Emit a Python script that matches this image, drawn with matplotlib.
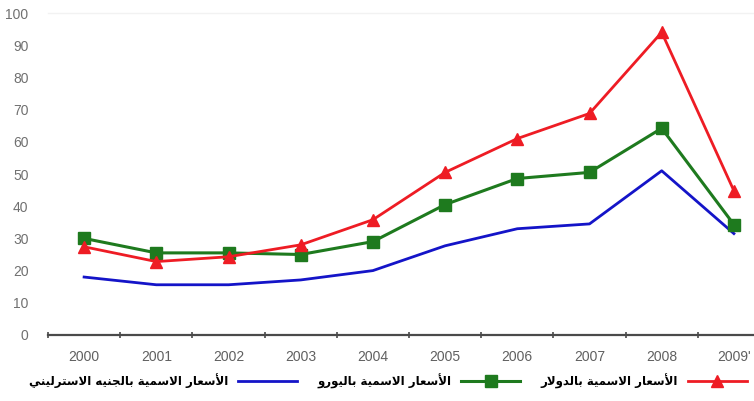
import matplotlib
matplotlib.use("Agg")
import matplotlib.pyplot as plt
import numpy as np

years = ["2000", "2001", "2002", "2003", "2004", "2005", "2006", "2007", "2008", "2009'"]
dollar = [27.4, 22.8, 24.3, 28.0, 35.8, 50.5, 61.0, 68.8, 94.0, 44.8]
euro = [30.0, 25.5, 25.5, 25.0, 29.0, 40.5, 48.6, 50.5, 64.2, 34.3]
pound = [18.0, 15.6, 15.6, 17.1, 20.0, 27.7, 33.0, 34.5, 51.0, 31.5]
yticks = [0, 10, 20, 30, 40, 50, 60, 70, 80, 90, 100]

lbl_dollar = "الأسعار الاسمية بالدولار"
lbl_euro = "الأسعار الاسمية باليورو"
lbl_pound = "الأسعار الاسمية بالجنيه الاسترليني"

# --- minimal Arabic shaping (presentation forms) + visual reordering ---
FORMS = {  # isolated, final, initial, medial
    'ا': ('\uFE8D', '\uFE8E', None, None),
    'أ': ('\uFE83', '\uFE84', None, None),
    'ب': ('\uFE8F', '\uFE90', '\uFE91', '\uFE92'),
    'ة': ('\uFE93', '\uFE94', None, None),
    'ت': ('\uFE95', '\uFE96', '\uFE97', '\uFE98'),
    'ج': ('\uFE9D', '\uFE9E', '\uFE9F', '\uFEA0'),
    'د': ('\uFEA9', '\uFEAA', None, None),
    'ر': ('\uFEAD', '\uFEAE', None, None),
    'س': ('\uFEB1', '\uFEB2', '\uFEB3', '\uFEB4'),
    'ع': ('\uFEC9', '\uFECA', '\uFECB', '\uFECC'),
    'ل': ('\uFEDD', '\uFEDE', '\uFEDF', '\uFEE0'),
    'م': ('\uFEE1', '\uFEE2', '\uFEE3', '\uFEE4'),
    'ن': ('\uFEE5', '\uFEE6', '\uFEE7', '\uFEE8'),
    'ه': ('\uFEE9', '\uFEEA', '\uFEEB', '\uFEEC'),
    'و': ('\uFEED', '\uFEEE', None, None),
    'ي': ('\uFEF1', '\uFEF2', '\uFEF3', '\uFEF4'),
    'لا': ('\uFEFB', '\uFEFC', None, None),
    'لأ': ('\uFEF7', '\uFEF8', None, None),
}


def shape(text):
    units = []
    i = 0
    while i < len(text):
        if text[i] == 'ل' and i + 1 < len(text) and text[i + 1] in 'اأ':
            units.append(text[i:i + 2])
            i += 2
        else:
            units.append(text[i])
            i += 1
    out = []
    for k, u in enumerate(units):
        if u not in FORMS:
            out.append(u)
            continue
        f = FORMS[u]
        prev = units[k - 1] if k > 0 else None
        nxt = units[k + 1] if k + 1 < len(units) else None
        join_prev = prev in FORMS and FORMS[prev][2] is not None
        join_next = f[2] is not None and nxt in FORMS
        if join_prev and join_next:
            out.append(f[3])
        elif join_prev:
            out.append(f[1])
        elif join_next:
            out.append(f[2])
        else:
            out.append(f[0])
    return ''.join(out)[::-1]


fig = plt.figure(figsize=(7.54, 4.01), dpi=100)
ax = fig.add_axes([48 / 754, (401 - 335) / 401, 722 / 754, 322 / 401])

x = np.arange(len(years))
l_pound, = ax.plot(x, pound, color='#1414c8', lw=2.0, label=shape(lbl_pound))
l_euro, = ax.plot(x, euro, color='#1e7a1e', lw=2.2, marker='s', ms=9,
                  mfc='#1e7a1e', mec='#1e7a1e', label=shape(lbl_euro))
l_dollar, = ax.plot(x, dollar, color='#ee1c24', lw=2.0, marker='^', ms=8,
                    mfc='#ee1c24', mec='#ee1c24', label=shape(lbl_dollar))

ax.set_xlim(-0.5, 9.5)
ax.set_ylim(0, 100)
ax.set_yticks(yticks)
ax.set_yticklabels([str(v) for v in yticks])
ax.set_xticks(x)
ax.set_xticklabels(years)
ax.set_xticks(np.arange(-0.5, 10, 1), minor=True)

for s in ['left', 'right']:
    ax.spines[s].set_visible(False)
ax.spines['top'].set_color('#f2f2f2')
ax.spines['top'].set_linewidth(1.0)
ax.spines['bottom'].set_color('#4a4a4a')
ax.spines['bottom'].set_linewidth(1.6)

ax.tick_params(axis='y', length=0, pad=14, labelsize=10, labelcolor='#707070')
ax.tick_params(axis='x', which='major', length=0, pad=11, labelsize=10, labelcolor='#606060')
ax.tick_params(axis='x', which='minor', length=5, width=1.2, color='#4a4a4a', direction='inout')
for t in ax.get_yticklabels() + ax.get_xticklabels():
    t.set_family('Liberation Sans')

leg = fig.legend(handles=[l_pound, l_euro, l_dollar], loc='center left',
                 bbox_to_anchor=(24 / 754, 20 / 401), ncol=3, frameon=False,
                 markerfirst=False, handlelength=5.0, columnspacing=1.7,
                 handletextpad=0.85, borderaxespad=0,
                 prop={'family': 'DejaVu Sans', 'weight': 'bold', 'size': 8.5})

fig.savefig('out.png', dpi=100)
